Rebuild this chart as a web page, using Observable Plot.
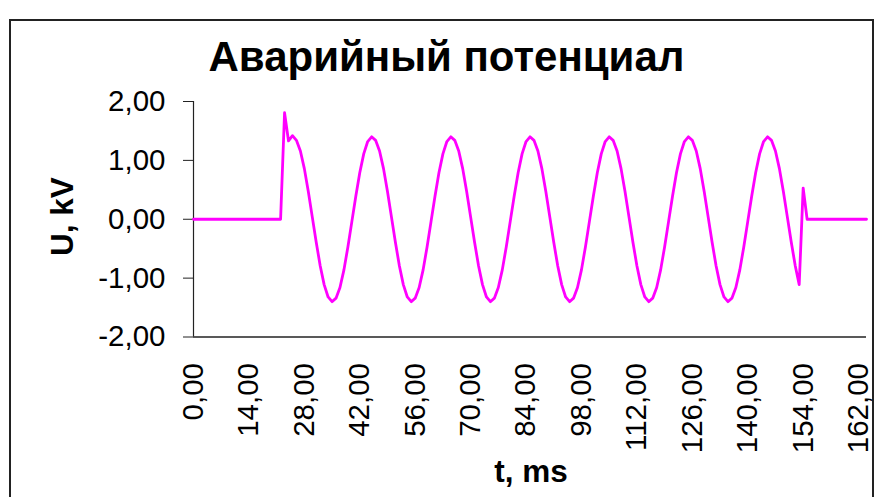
<!DOCTYPE html>
<html>
<head>
<meta charset="utf-8">
<script src="https://cdn.jsdelivr.net/npm/d3@7"></script>
<script src="https://cdn.jsdelivr.net/npm/@observablehq/plot@0.6"></script>
<style>
  html, body { margin: 0; padding: 0; background: #fff; }
  #wrap { position: relative; width: 877px; height: 497px; overflow: hidden; font-family: "Liberation Sans", Arial, sans-serif; }
  #frame { position: absolute; left: 9px; top: 19px; width: 865px; height: 500px; border: 2px solid #222; box-sizing: border-box; }
  #chart { position: absolute; left: 0; top: 0; }
</style>
</head>
<body>
<div id="wrap"><div id="frame"></div><div id="chart"></div></div>
<script>
// Sample values of the fault potential U (kV), one per category point
const U = [
  0,0,0,0,0,0,0,0,0,0,0,0,0,0,0,0,0,0,0,0,0,0,0,
  1.81,1.33,1.42,
  1.34,1.16,0.86,0.47,0.04,-0.39,-0.79,-1.11,-1.32,-1.40,-1.34,-1.16,-0.86,-0.47,-0.04,0.39,0.79,1.11,1.32,
  1.40,1.34,1.16,0.86,0.47,0.04,-0.39,-0.79,-1.11,-1.32,-1.40,-1.34,-1.16,-0.86,-0.47,-0.04,0.39,0.79,1.11,1.32,
  1.40,1.34,1.16,0.86,0.47,0.04,-0.39,-0.79,-1.11,-1.32,-1.40,-1.34,-1.16,-0.86,-0.47,-0.04,0.39,0.79,1.11,1.32,
  1.40,1.34,1.16,0.86,0.47,0.04,-0.39,-0.79,-1.11,-1.32,-1.40,-1.34,-1.16,-0.86,-0.47,-0.04,0.39,0.79,1.11,1.32,
  1.40,1.34,1.16,0.86,0.47,0.04,-0.39,-0.79,-1.11,-1.32,-1.40,-1.34,-1.16,-0.86,-0.47,-0.04,0.39,0.79,1.11,1.32,
  1.40,1.34,1.16,0.86,0.47,0.04,-0.39,-0.79,-1.11,-1.32,-1.40,-1.34,-1.16,-0.86,-0.47,-0.04,0.39,0.79,1.11,1.32,
  1.40,1.34,1.16,0.86,0.47,0.04,-0.39,-0.79,-1.11,
  0.53,
  0,0,0,0,0,0,0,0,0,0,0,0,0,0,0,0
];
// Category tick labels (every 14th category point)
const xTickLabels = ["0,00","14,00","28,00","42,00","56,00","70,00","84,00","98,00","112,00","126,00","140,00","154,00","162,00"];
const labelEvery = 14;
const yTicks = [-2, -1, 0, 1, 2];
const title = "Аварийный потенциал";
const xTitle = "t, ms";
const yTitle = "U, kV";

const data = U.map((u, i) => ({i, u}));
const font = '"Liberation Sans", Arial, sans-serif';

const svg = Plot.plot({
  width: 877,
  height: 497,
  marginLeft: 193,
  marginRight: 11,
  marginTop: 101,
  marginBottom: 160.5,
  style: {fontFamily: font, background: "transparent", overflow: "visible"},
  x: {domain: [0, U.length - 1]},
  y: {domain: [-2, 2]},
  marks: [
    Plot.axisY({
      ticks: yTicks,
      tickFormat: d => d.toFixed(2).replace(".", ","),
      tickSize: 10,
      tickPadding: 18,
      fontSize: 29.5,
      stroke: "#222",
      fill: "#000",
      label: null
    }),
    Plot.axisX({
      ticks: xTickLabels.map((_, k) => k * labelEvery),
      tickFormat: d => xTickLabels[Math.round(d / labelEvery)],
      tickRotate: -90,
      tickSize: 0,
      tickPadding: 26,
      fontSize: 29.5,
      fill: "#000",
      label: null
    }),
    Plot.ruleX([0], {stroke: "#222", strokeWidth: 1.2}),
    Plot.ruleY([-2], {stroke: "#222", strokeWidth: 1.5}),
    Plot.line(data, {x: "i", y: "u", stroke: "#ff00ff", strokeWidth: 2.8, strokeLinejoin: "round"})
  ]
});

const s = d3.select(svg);
s.append("text").text(title)
  .attr("x", 446.5).attr("y", 70.5)
  .attr("text-anchor", "middle")
  .attr("font-family", font).attr("font-weight", "bold").attr("font-size", 42).attr("fill", "#000");
s.append("text").text(xTitle)
  .attr("x", 531).attr("y", 481.5)
  .attr("text-anchor", "middle")
  .attr("font-family", font).attr("font-weight", "bold").attr("font-size", 31.5).attr("fill", "#000");
s.append("text").text(yTitle)
  .attr("transform", "translate(73,216.7) rotate(-90)")
  .attr("text-anchor", "middle")
  .attr("font-family", font).attr("font-weight", "bold").attr("font-size", 31.5).attr("fill", "#000");

document.getElementById("chart").appendChild(svg);
</script>
</body>
</html>
